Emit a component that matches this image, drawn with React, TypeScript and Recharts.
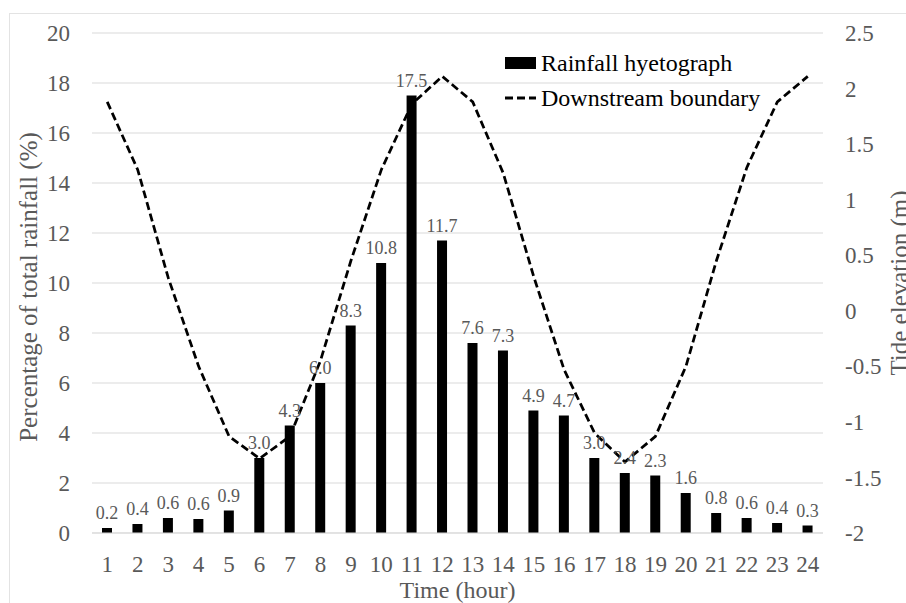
import React from 'react';
import { ComposedChart, Bar, Line, XAxis, YAxis, CartesianGrid, LabelList, Label, Legend } from 'recharts';

const hours = ['1','2','3','4','5','6','7','8','9','10','11','12','13','14','15','16','17','18','19','20','21','22','23','24'];
const rainfall = [0.2, 0.36, 0.6, 0.56, 0.9, 3.0, 4.3, 6.0, 8.3, 10.8, 17.5, 11.7, 7.6, 7.3, 4.9, 4.7, 3.0, 2.4, 2.3, 1.6, 0.8, 0.6, 0.4, 0.3];
const tide = [1.88, 1.27, 0.3, -0.5, -1.13, -1.33, -1.13, -0.45, 0.45, 1.27, 1.86, 2.11, 1.88, 1.24, 0.31, -0.53, -1.1, -1.36, -1.13, -0.5, 0.45, 1.29, 1.88, 2.11];
const leftTicks = [0, 2, 4, 6, 8, 10, 12, 14, 16, 18, 20];
const rightTicks = [-2, -1.5, -1, -0.5, 0, 0.5, 1, 1.5, 2, 2.5];

const data = hours.map((h, i) => ({ hour: h, rain: rainfall[i], tide: tide[i] }));

const FONT = '"Liberation Serif", "Times New Roman", serif';
const GRAY = '#595959';

const LeftTitle = (props: any) => {
  const vb = props.viewBox || { x: 0, y: 33, width: 92, height: 500 };
  const x = vb.x + 37;
  const y = vb.y + vb.height / 2 + 4;
  return (
    <text x={x} y={y} transform={`rotate(-90 ${x} ${y})`} textAnchor="middle" fill={GRAY} fontSize={25} fontFamily={FONT}>
      Percentage of total rainfall (%)
    </text>
  );
};

const RightTitle = (props: any) => {
  const vb = props.viewBox || { x: 823, y: 33, width: 83, height: 500 };
  const x = vb.x + vb.width + 2;
  const y = vb.y + vb.height / 2;
  return (
    <text x={x} y={y} transform={`rotate(-90 ${x} ${y})`} textAnchor="middle" fill={GRAY} fontSize={25} fontFamily={FONT}>
      Tide elevation (m)
    </text>
  );
};

const LegendContent = () => (
  <svg width={280} height={64} style={{ display: 'block', overflow: 'visible' }}>
    <rect x={0} y={7} width={31} height={12} fill="#000" />
    <text x={36} y={21} fontSize={24} fontFamily={FONT} fill="#000">Rainfall hyetograph</text>
    <line x1={0} x2={31} y1={48} y2={48} stroke="#000" strokeWidth={3} strokeDasharray="8 4" />
    <text x={36} y={56} fontSize={24} fontFamily={FONT} fill="#000">Downstream boundary</text>
  </svg>
);

export default function App() {
  return (
    <div style={{ position: 'absolute', left: 0, top: 0, width: 906, height: 603, overflow: 'hidden', background: '#fff', fontFamily: FONT }}>
      <div style={{ position: 'absolute', left: 9, top: 13, width: 1200, height: 1200, border: '1px solid #e3e3e3' }} />
      <ComposedChart
        width={906}
        height={603}
        data={data}
        margin={{ top: 33, right: 0, bottom: 0, left: 0 }}
        barSize={10}
        style={{ fontFamily: FONT }}
      >
        <CartesianGrid yAxisId="left" vertical={false} stroke="#d9d9d9" strokeWidth={1.2} />
        <XAxis
          dataKey="hour"
          height={70}
          axisLine={{ stroke: '#d9d9d9' }}
          tickLine={false}
          tickMargin={17}
          tick={{ fill: GRAY, fontSize: 23, fontFamily: FONT }}
          interval={0}
        >
          <Label value="Time (hour)" position="insideBottom" offset={5} fill={GRAY} fontSize={24} fontFamily={FONT} />
        </XAxis>
        <YAxis
          yAxisId="left"
          orientation="left"
          width={92}
          domain={[0, 20]}
          ticks={leftTicks}
          axisLine={false}
          tickLine={false}
          tickMargin={16}
          tick={{ fill: GRAY, fontSize: 23, fontFamily: FONT }}
        >
          <Label content={LeftTitle} />
        </YAxis>
        <YAxis
          yAxisId="right"
          orientation="right"
          width={83}
          domain={[-2, 2.5]}
          ticks={rightTicks}
          axisLine={false}
          tickLine={false}
          tickMargin={16}
          tick={{ fill: GRAY, fontSize: 23, fontFamily: FONT }}
        >
          <Label content={RightTitle} />
        </YAxis>
        <Legend
          layout="vertical"
          align="center"
          verticalAlign="middle"
          content={LegendContent}
          wrapperStyle={{ left: 505, top: 50, width: 280, height: 64 }}
        />
        <Bar yAxisId="left" dataKey="rain" fill="#000" isAnimationActive={false}>
          <LabelList
            dataKey="rain"
            position="top"
            offset={9}
            fill={GRAY}
            fontSize={18}
            fontFamily={FONT}
            formatter={(v: any) => Number(v).toFixed(1)}
          />
        </Bar>
        <Line
          yAxisId="right"
          type="linear"
          dataKey="tide"
          stroke="#000"
          strokeWidth={2.75}
          strokeDasharray="8 4"
          dot={false}
          activeDot={false}
          isAnimationActive={false}
        />
      </ComposedChart>
    </div>
  );
}
